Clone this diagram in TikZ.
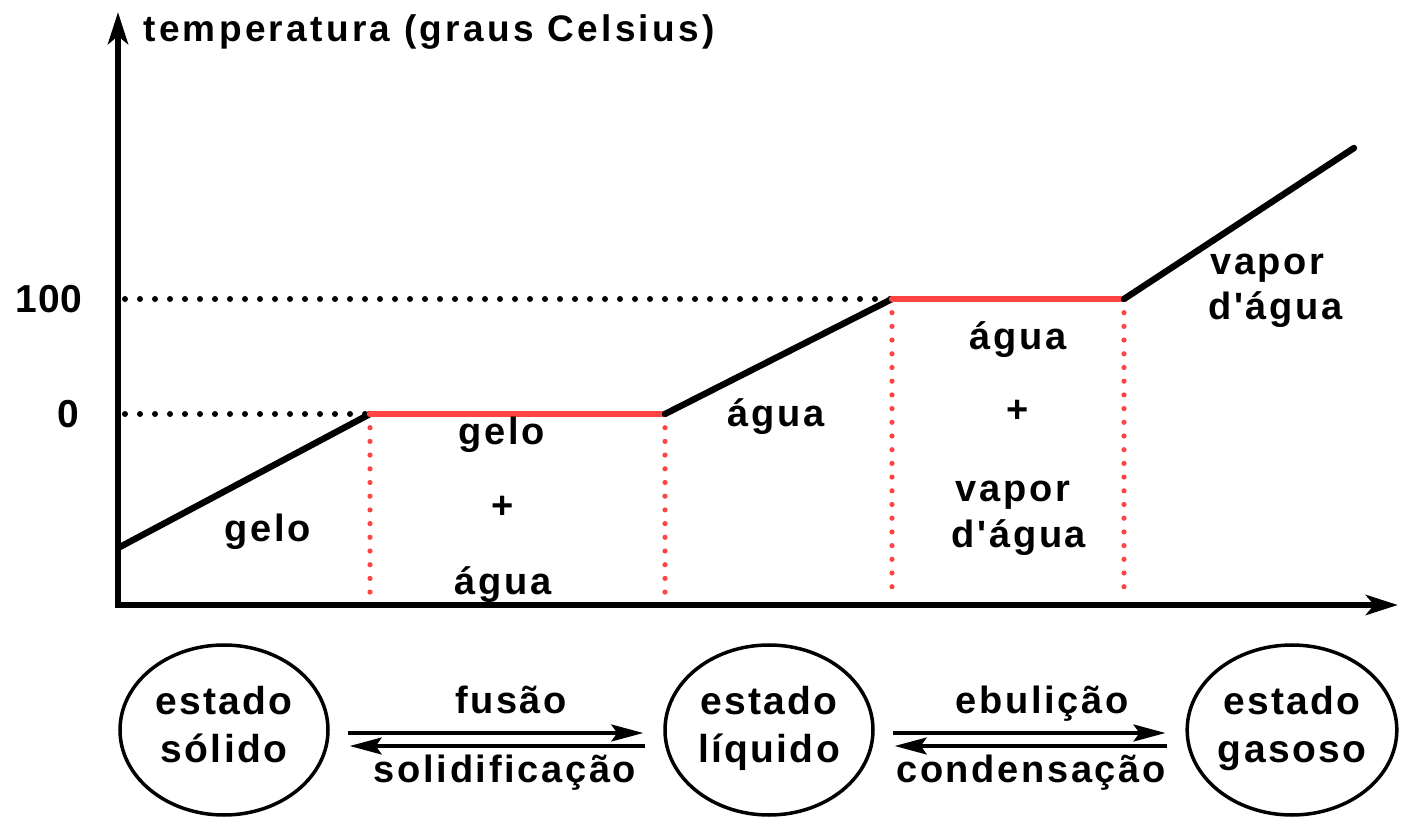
\documentclass[tikz,border=0pt]{standalone}
\usepackage{fontspec}
\setmainfont{Liberation Sans}[Ligatures=TeXOff]
\usetikzlibrary{arrows.meta,shapes.geometric}

\definecolor{vermelho}{RGB}{255,68,68}

\tikzset{
  rotulo/.style={font=\fontsize{19}{22}\selectfont\bfseries\addfontfeatures{LetterSpace=7}, inner sep=0pt, anchor=base},
  estado/.style={draw, ellipse, line width=1.75pt, minimum width=104pt, minimum height=85pt, inner sep=0pt, align=center,
    text depth=6pt, font=\fontsize{19.5}{24}\selectfont\bfseries\addfontfeatures{LetterSpace=6}},
  eixo/.style={line width=3pt, line join=miter, {Stealth[length=16pt,width=10pt,inset=4pt]}-{Stealth[length=16pt,width=10pt,inset=4pt]}},
  curva/.style={line width=3.2pt, line cap=round, line join=round},
  patamar/.style={curva, draw=vermelho},
  guia/.style={line width=3pt, line cap=round, dash pattern=on 0pt off 7.5pt},
  guiav/.style={draw=vermelho, line width=2.6pt, line cap=round, dash pattern=on 0pt off 6.85pt},
  seta/.style={line width=1.7pt, -{Stealth[length=16pt,width=8.5pt,inset=3pt]}, shorten <=9pt, shorten >=10pt}
}

\begin{document}
\begin{tikzpicture}[x=0.5pt, y=-0.5pt]
  \useasboundingbox (0,0) rectangle (1405,818);

  % Points of the curve
  \coordinate (o) at (118,605);
  \coordinate (c0) at (118,548);
  \coordinate (c1) at (370,414);
  \coordinate (c2) at (665,414);
  \coordinate (c3) at (892,299);
  \coordinate (c4) at (1124,299);
  \coordinate (c5) at (1354,148);
  \coordinate (ytop) at (118,12);
  \coordinate (xend) at (1398,605);

  % Dotted guides
  \draw[guia] (c1 -| o) ++(7,0) -- (c1);
  \draw[guia] (c3 -| o) ++(7,0) -- (c3);
  \foreach \p in {c1,c2,c3,c4}
    \draw[guiav] (\p) -- ([yshift=3pt]\p |- o);

  % Draw axes
  \draw[eixo] (ytop) -- (o) -- (xend);
  \node[rotulo, anchor=base west, font=\fontsize{18.5}{21}\selectfont\bfseries\addfontfeatures{LetterSpace=9}] (titulo) at (143,42) {temperatura (graus Celsius)};
  \node[rotulo, font=\fontsize{19.5}{22}\selectfont\bfseries\addfontfeatures{LetterSpace=3}] (cem) at (49,313) {100};
  \node[rotulo, font=\fontsize{19.5}{22}\selectfont\bfseries] (zero) at (68,428) {0};

  % Curve
  \draw[curva] (c0) -- (c1);
  \draw[patamar] (c1) -- (c2);
  \draw[curva] (c2) -- (c3);
  \draw[patamar] (c3) -- (c4);
  \draw[curva] (c4) -- (c5);

  % Labels of the phases
  \node[rotulo] (gelo) at (268,542) {gelo};
  \node[rotulo] (gelo2) at (502,445) {gelo};
  \node[rotulo] (mais1) at (503,519) {+};
  \node[rotulo] (agua1) at (503,595) {água};
  \node[rotulo] (agua2) at (776,427) {água};
  \node[rotulo] (agua3) at (1018,350) {água};
  \node[rotulo] (mais2) at (1018,423) {+};
  \node[rotulo] (vapor1) at (1013,502) {vapor};
  \node[rotulo] (vapor1b) at (1019,548) {d'água};
  \node[rotulo, anchor=base west] (vapor2) at (1210,275) {vapor};
  \node[rotulo, anchor=base west] (vapor2b) at (1208,320) {d'água};

  % States
  \node[estado] (solido) at (224,730) {estado\\sólido};
  \node[estado] (liquido) at (769,730) {estado\\líquido};
  \node[estado] (gasoso) at (1292,730) {estado\\gasoso};

  % Changes of state
  \draw[seta] ([yshift=-1.5pt]solido.east) -- ([yshift=-1.5pt]liquido.west);
  \draw[seta] ([yshift=-8pt]liquido.west) -- ([yshift=-8pt]solido.east);
  \draw[seta] ([yshift=-1.5pt]liquido.east) -- ([yshift=-1.5pt]gasoso.west);
  \draw[seta] ([yshift=-8pt]gasoso.west) -- ([yshift=-8pt]liquido.east);
  \node[rotulo] (fusao) at (511,713) {fusão};
  \node[rotulo] (solidif) at (505,782) {solidificação};
  \node[rotulo] (ebul) at (1042,713) {ebulição};
  \node[rotulo] (conden) at (1031,782) {condensação};
\end{tikzpicture}
\end{document}
